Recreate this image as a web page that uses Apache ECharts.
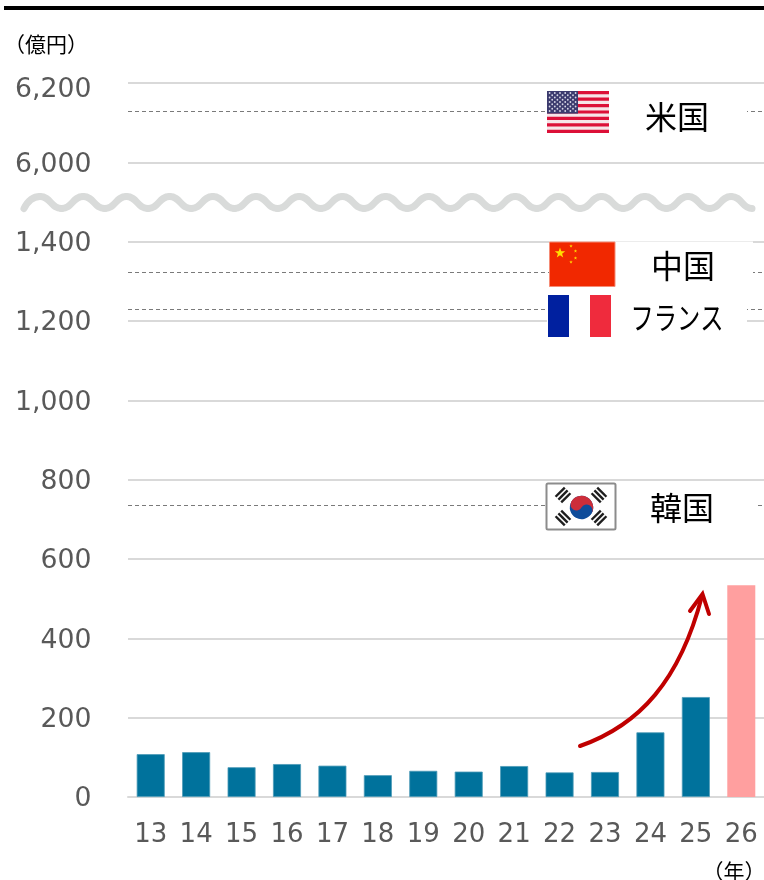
<!DOCTYPE html>
<html><head><meta charset="utf-8">
<style>html,body{margin:0;padding:0;background:#fff}#c{width:764px;height:880px}</style>
<script src="https://cdn.jsdelivr.net/npm/echarts@6/dist/echarts.min.js"></script>
</head><body><div id="c"></div>
<script>
const years = ['13','14','15','16','17','18','19','20','21','22','23','24','25','26'];
const values = [108,113,75,83,79,55,66,64,78,62,63,163,252,534];
const yTickLabels = ['0','200','400','600','800','1,000','1,200','1,400','6,000','6,200'];
const refCountries = ['米国','中国','フランス','韓国'];
const refValues = [6130,1322,1229,735];
const forecastIndex = 13;
const BAR='#00729C', FORE='#FF9F9F', GRID='#D9D9D9', TXT='#595959';
const CJK='"Noto Sans CJK JP"';
// broken axis: values from 6000 upward sit directly above 1400
const toAxis = v => v >= 6000 ? v - 4400 : v;

const el = [];
const rect=(x,y,w,h,fill,extra)=>el.push(Object.assign({type:'rect',z:20,silent:true,shape:{x,y,width:w,height:h},style:{fill}},extra||{}));
const label=(t,x,y,size,extra)=>el.push(Object.assign({type:'text',z:27,silent:true,x,y,style:{text:t,font:`${size}px ${CJK}`,fill:'#000',textAlign:'center',textVerticalAlign:'middle'}},extra||{}));
const star=(cx,cy,r,fill)=>{const p=[];for(let i=0;i<10;i++){const a=-Math.PI/2+i*Math.PI/5,q=i%2?r*0.4:r;p.push([cx+q*Math.cos(a),cy+q*Math.sin(a)]);}
  el.push({type:'polygon',z:26,silent:true,shape:{points:p},style:{fill}});};
const curve=(x1,y1,c1x,c1y,c2x,c2y,x2,y2,stroke,w,z)=>el.push({type:'bezierCurve',z:z,silent:true,shape:{x1,y1,cpx1:c1x,cpy1:c1y,cpx2:c2x,cpy2:c2y,x2,y2},style:{stroke,lineWidth:w,fill:null,lineCap:'round'}});

// top rule
rect(4,6,760,4,'#000');
// axis break wave
(function(){const half=21.6,lo=208.5,hi=196.5,col='#D9DBDA';
  curve(24,lo,28,hi+4,34,hi,40,hi,col,7,15);
  let x=40,up=true;
  while(x<745){const a=up?hi:lo,b=up?lo:hi;const nx=Math.min(x+half,752);curve(x,a,x+half/2,a,x+half/2,b,nx,b,col,7,15);x=nx;up=!up;}
})();
// white panels behind the country labels
rect(547,98,200,36,'#fff');
rect(549,241.6,204,48,'#fff');
rect(547,292,200,46,'#fff');
rect(546,484,209,46,'#fff');

// US flag
(function(){const x=547,y=91,w=62,h=42,s=h/13;
  rect(x,y,w,h,'#F6E4E8',{z:24});
  for(let i=0;i<13;i+=2)rect(x,y+i*s,w,s,'#DC1038',{z:24});
  rect(x,y,31,s*7,'#3C3B6E',{z:25});
  for(let r=0;r<9;r++){const n=r%2?5:6;for(let c=0;c<n;c++)el.push({type:'circle',z:26,silent:true,shape:{cx:x+2.6+(r%2?2.6:0)+c*5.2,cy:y+2+r*2.25,r:0.9},style:{fill:'#D8D8E6'}});}
})();
label('米国',677,117,32);
// China flag
rect(549.5,242,65.5,44.5,'#F12800',{z:24,style:{fill:'#F12800',stroke:'#F58C76',lineWidth:1}});
star(560,253,5.5,'#FFDE00');
star(571,246,1.8,'#FFDE00');star(575.5,251,1.8,'#FFDE00');star(575.5,258,1.8,'#FFDE00');star(571,262,1.8,'#FFDE00');
label('中国',683,266,32);
// France flag
rect(548,295,21,42,'#00209F',{z:24});rect(569,295,21,42,'#fff',{z:24});rect(590,295,21,42,'#EF2B3D',{z:24});
label('フランス',677,317,31,{scaleX:0.75});
// Korea flag
el.push({type:'rect',z:23,silent:true,shape:{x:546.5,y:483.5,width:69,height:46,r:1.5},style:{fill:'#fff',stroke:'#8C8C8C',lineWidth:2}});
el.push({type:'group',z:24,silent:true,x:581.5,y:507.5,rotation:-0.5,children:[
  {type:'circle',z:24,shape:{cx:0,cy:0,r:11.7},style:{fill:'#0F4C9A'}},
  {type:'sector',z:25,shape:{cx:0,cy:0,r:11.7,r0:0,startAngle:Math.PI,endAngle:2*Math.PI},style:{fill:'#CD2E3A'}},
  {type:'circle',z:26,shape:{cx:-5.85,cy:0,r:5.85},style:{fill:'#CD2E3A'}},
  {type:'circle',z:26,shape:{cx:5.85,cy:0,r:5.85},style:{fill:'#0F4C9A'}}
]});
[[563,495,1],[599,495,-1],[563,518,-1],[599,518,1]].forEach(([x,y,sg])=>{
  const ch=[-4,0,4].map(o=>({type:'rect',z:25,shape:{x:-6.5,y:o-1.2,width:13,height:2.4},style:{fill:'#1E1E1E'}}));
  el.push({type:'group',z:25,silent:true,x,y,rotation:sg*Math.PI/4,children:ch});
});
label('韓国',682,508,32);
// unit labels
label('（億円）',46,44,21);
label('（年）',734,871,21);
// growth arrow
curve(580,746,640,725,680,680,702,596,'#C00000',4,30);
el.push({type:'polyline',z:30,silent:true,shape:{points:[[690,611],[702.5,594],[709,614]]},style:{stroke:'#C00000',lineWidth:4,fill:null,lineCap:'round',lineJoin:'miter'}});

const chart = echarts.init(document.getElementById('c'),null,{renderer:'canvas'});
chart.setOption({
  animation:false,
  backgroundColor:'#fff',
  grid:{left:128,right:0,top:83,bottom:83,containLabel:false},
  xAxis:{type:'category',data:years,
    axisLine:{lineStyle:{color:GRID,width:2}},axisTick:{show:false},
    axisLabel:{color:TXT,fontFamily:'"DejaVu Sans"',fontSize:26,margin:25}},
  yAxis:{type:'value',min:0,max:1800,interval:200,
    axisLine:{show:false},axisTick:{show:false},
    splitLine:{lineStyle:{color:GRID,width:2}},
    axisLabel:{color:TXT,fontFamily:'"DejaVu Sans"',fontSize:26.7,margin:36.5,padding:[5,0,0,0],
      formatter:(v)=>{const t=yTickLabels[Math.round(v/200)];return v===1800?`{top|${t}}`:t;},
      rich:{top:{color:TXT,fontFamily:'"DejaVu Sans"',fontSize:26.7,padding:[10,0,0,0]}}}},
  graphic:{elements:el},
  series:[{type:'bar',barWidth:28,
    data:values.map((v,i)=>({value:toAxis(v),itemStyle:i===forecastIndex?{color:FORE}:{color:BAR,borderColor:'#4C9BB8',borderWidth:0.8}})),
    markLine:{silent:true,symbol:'none',label:{show:false},animation:false,z:1,
      lineStyle:{color:'#7A7A7A',type:[4,3],width:1.2},
      data:refValues.map((v,i)=>({name:refCountries[i],yAxis:toAxis(v)}))}
  }]
});
</script></body></html>
